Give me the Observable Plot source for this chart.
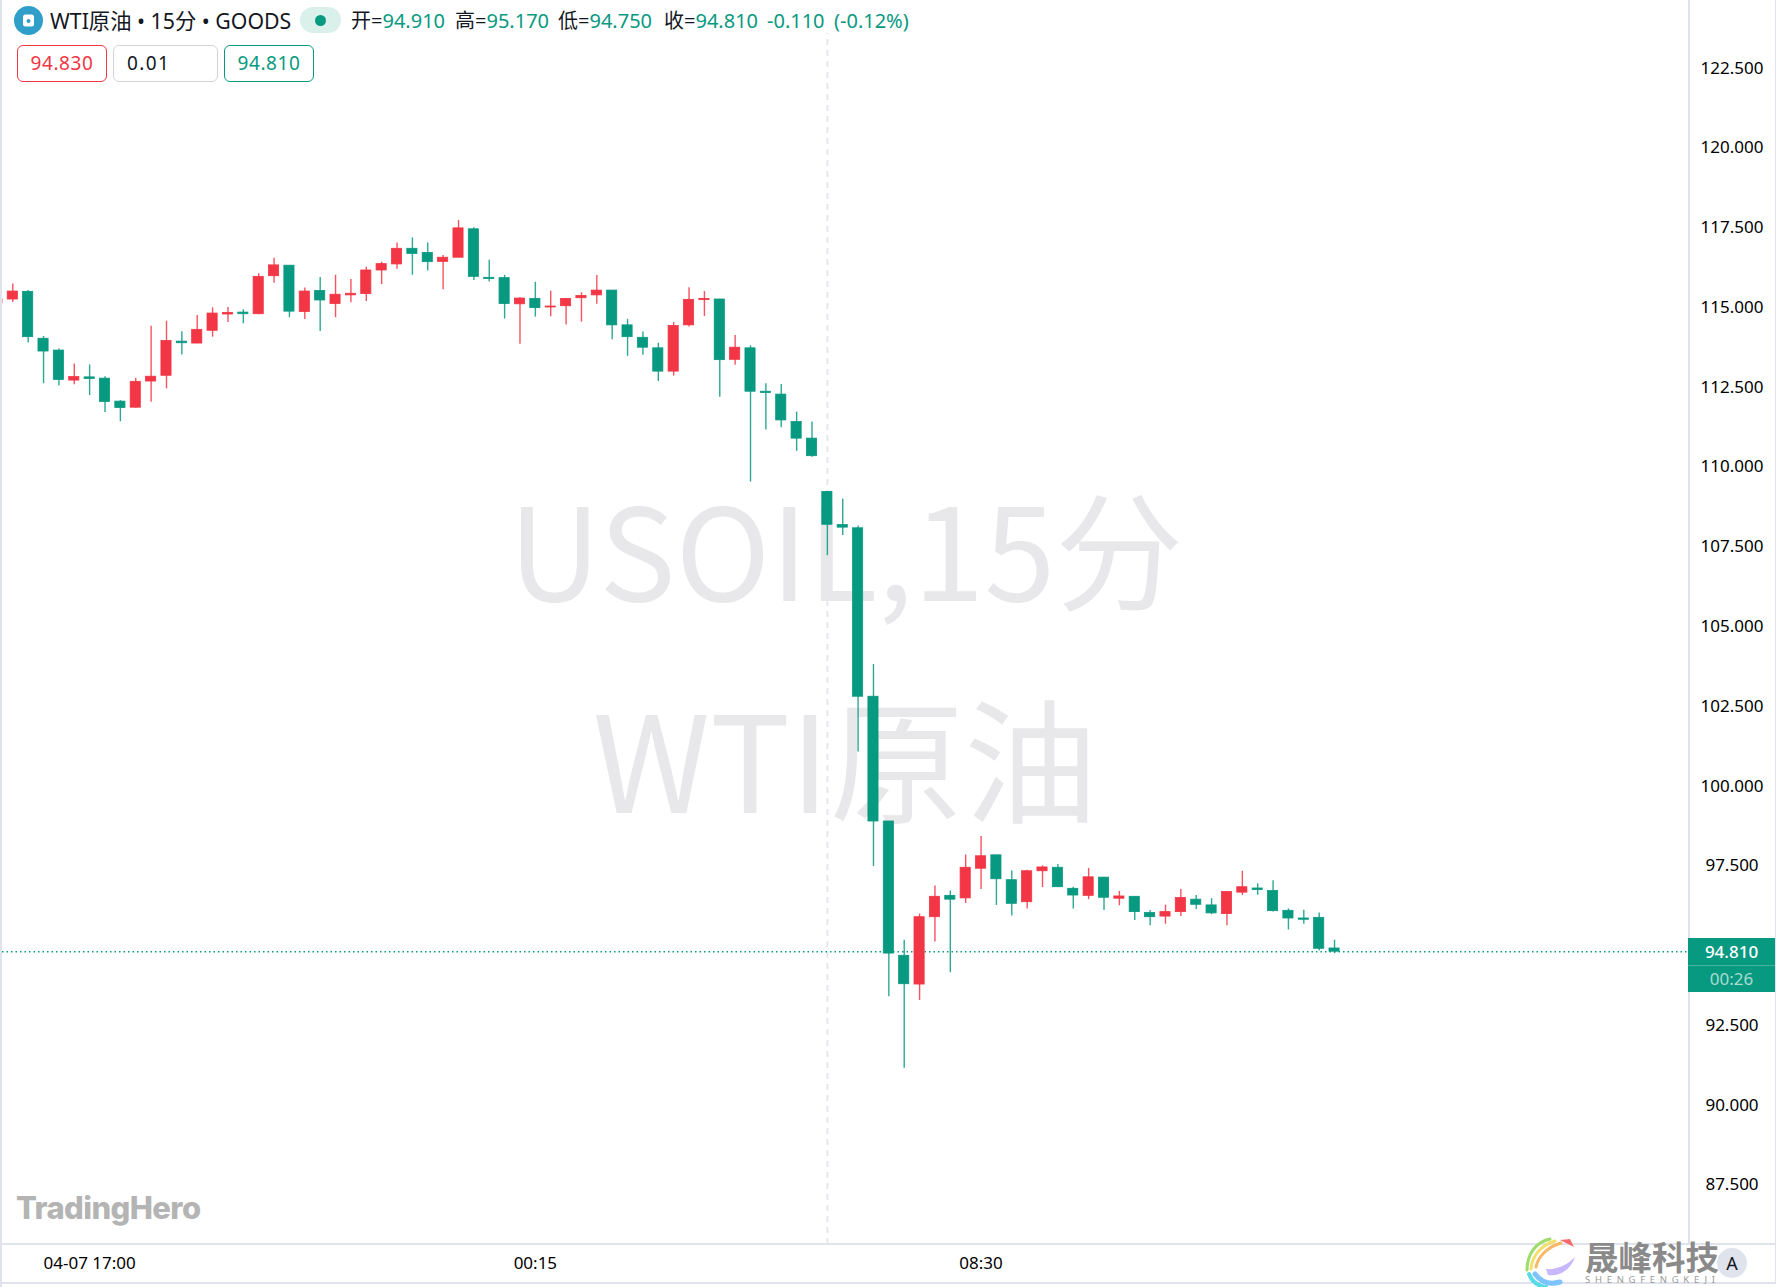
<!DOCTYPE html>
<html lang="zh">
<head>
<meta charset="utf-8">
<script src="https://cdn.jsdelivr.net/npm/d3@7"></script>
<script src="https://cdn.jsdelivr.net/npm/@observablehq/plot@0.6"></script>
<style>
html,body{margin:0;padding:0;background:#fff;width:1776px;height:1287px;overflow:hidden;font-family:"Noto Sans","Noto Sans CJK SC",sans-serif;color:#131722}
#wrap{position:relative;width:1776px;height:1287px;overflow:hidden}
#chart{position:absolute;left:0;top:0}
.a{position:absolute;white-space:nowrap}
.line{position:absolute;background:#e0e3eb}
.g{color:#089981}
.box{position:absolute;top:45px;height:35px;line-height:35px;border-radius:6px;border:1.5px solid;text-align:center;font-size:19px;letter-spacing:.6px;background:#fff}
</style>
</head>
<body>
<div id="wrap">
<div id="chart"></div>
<div class="line" style="left:0;top:0;width:2px;height:1287px"></div>
<div class="line" style="left:1688px;top:0;width:1.5px;height:1244px"></div>
<div class="line" style="left:1775px;top:0;width:1px;height:1282px"></div>
<div class="line" style="left:0;top:1243px;width:1776px;height:2px"></div>
<div class="line" style="left:0;top:1282px;width:1776px;height:2px"></div>

<svg class="a" style="left:14px;top:6px" width="29" height="29" viewBox="0 0 29 29"><circle cx="14.5" cy="14.5" r="14.5" fill="#2f9fc9"/><rect x="9" y="8.5" width="11" height="12" rx="2.5" fill="#fff"/><circle cx="14.5" cy="15" r="2" fill="#2f9fc9"/></svg>
<div class="a" style="left:50px;top:7px;font-size:21.3px;line-height:28px">WTI原油 • 15分 • GOODS</div>
<div class="a" style="left:300px;top:7px;width:41px;height:26px;border-radius:13px;background:#d9f0eb"></div>
<div class="a" style="left:315px;top:15px;width:11px;height:11px;border-radius:50%;background:#089981"></div>
<div class="a" style="left:351px;top:7px;font-size:20px;line-height:28px">开=<span class="g">94.910</span></div>
<div class="a" style="left:455px;top:7px;font-size:20px;line-height:28px">高=<span class="g">95.170</span></div>
<div class="a" style="left:558px;top:7px;font-size:20px;line-height:28px">低=<span class="g">94.750</span></div>
<div class="a" style="left:664px;top:7px;font-size:20px;line-height:28px">收=<span class="g">94.810</span></div>
<div class="a g" style="left:767px;top:7px;font-size:20px;line-height:28px">-0.110</div>
<div class="a g" style="left:834px;top:7px;font-size:20px;line-height:28px">(-0.12%)</div>

<div class="box" style="left:17px;width:88px;border-color:#f23645;color:#f23645">94.830</div>
<div class="box" style="left:113px;width:103px;border-color:#d1d4dc;color:#131722;text-align:left;text-indent:13px;letter-spacing:1.4px">0.01</div>
<div class="box" style="left:224px;width:88px;border-color:#089981;color:#089981">94.810</div>

<div class="a" style="left:1688px;top:938px;width:87px;height:54px;background:#089981"></div>
<div class="a" style="left:1688px;top:965px;width:87px;height:1px;background:#46b3a0"></div>
<div class="a" style="left:1688px;top:938px;width:87px;height:27px;line-height:27px;text-align:center;color:#fff;font-size:17px;font-weight:500">94.810</div>
<div class="a" style="left:1688px;top:966px;width:87px;height:26px;line-height:26px;text-align:center;color:#a8dcd2;font-size:17px">00:26</div>

<div class="a" style="left:16px;top:1188px;font-family:Inter,sans-serif;font-weight:800;font-size:31px;line-height:40px;letter-spacing:-.6px;color:#b4b4b4">TradingHero</div>

<svg class="a" style="left:1524px;top:1236px" width="56" height="51" viewBox="0 0 56 51" fill="none" stroke-linecap="round">
<path d="M3 34 C3 18 12 6 26 3" stroke="#9bdc6a" stroke-width="3"/>
<path d="M7 33 C8 20 17 9 31 5" stroke="#f2e06a" stroke-width="3"/>
<path d="M12 31 C14 21 23 11 37 7" stroke="#f9b868" stroke-width="3"/>
<path d="M36 4 L46 3 L50 11 Z" fill="#f66a6a" stroke="none"/>
<path d="M5 38 C8 46 14 50 22 51" stroke="#59dbe8" stroke-width="4"/>
<path d="M11 38 C17 46 26 49 36 46" stroke="#7cc3ff" stroke-width="5"/>
<path d="M22 33 C32 34 44 29 51 21 C47 33 36 41 24 39" fill="#c8b6ff" stroke="none"/>
</svg>
<div class="a" style="left:1585px;top:1238px;font-family:'Noto Sans CJK SC';font-weight:700;font-size:33.5px;line-height:35px;color:#8a8a8a">晟峰科技</div>
<div class="a" style="left:1585px;top:1275px;font-size:9.5px;line-height:10px;letter-spacing:4.7px;color:#9a9a9a">SHENGFENGKEJI</div>
<div class="a" style="left:1717px;top:1248px;width:30px;height:30px;border-radius:50%;background:#e0e3eb;text-align:center;line-height:30px;font-size:18px">A</div>
</div>
<script>
const opens = [115.13,115.25,115.49,114.02,113.65,112.71,112.81,112.77,112.05,111.86,112.68,112.86,113.93,113.87,114.27,114.78,114.84,114.79,115.98,116.31,114.86,115.52,115.11,115.38,115.42,116.16,116.35,116.84,116.71,116.43,116.56,117.45,115.93,115.92,115.10,115.27,115.00,115.04,115.29,115.38,115.53,114.44,114.05,113.72,112.99,114.44,115.23,115.25,113.36,113.72,112.36,112.27,111.41,110.89,109.22,108.18,108.08,102.80,98.89,94.68,93.78,95.89,96.56,96.48,97.41,97.83,97.05,96.36,97.33,97.44,96.78,96.56,97.13,96.47,96.53,96.02,95.91,96.05,96.44,96.26,95.99,96.66,96.79,96.71,96.09,95.85,95.87,94.91];
const closes = [115.25,115.50,114.07,113.62,112.73,112.82,112.76,112.04,111.85,112.67,112.83,113.95,113.88,114.30,114.81,114.83,114.79,115.96,116.32,114.87,115.50,115.22,115.40,115.43,116.16,116.36,116.84,116.68,116.42,116.56,117.48,115.96,115.89,115.11,115.28,114.98,115.03,115.27,115.36,115.53,114.44,114.07,113.74,112.99,114.42,115.24,115.27,113.35,113.74,112.36,112.32,111.46,110.89,110.34,108.19,108.10,102.80,98.89,94.75,93.79,95.89,96.53,96.44,97.44,97.80,97.08,96.31,97.33,97.45,96.83,96.57,97.14,96.50,96.54,96.05,95.89,96.05,96.49,96.28,96.01,96.68,96.83,96.74,96.08,95.85,95.81,94.90,94.81];
const highs = [115.25,115.74,115.53,114.09,113.70,113.23,113.20,112.83,112.08,112.78,114.41,114.57,114.24,114.75,114.99,115.00,114.93,116.06,116.54,116.31,115.61,115.94,116.01,115.88,116.26,116.42,117.02,117.18,117.02,116.63,117.73,117.50,116.48,116.01,115.31,115.79,115.51,115.28,115.46,116.00,115.53,114.63,114.23,113.88,114.53,115.62,115.50,115.26,114.12,113.80,112.61,112.59,111.72,111.41,109.23,109.00,108.15,103.81,98.89,95.17,95.99,96.87,96.71,97.84,98.42,97.83,97.34,97.36,97.50,97.54,96.83,97.42,97.13,96.70,96.53,96.10,96.27,96.76,96.57,96.47,96.69,97.33,96.94,97.03,96.15,96.11,96.02,95.17];
const lows = [115.13,115.16,113.89,112.61,112.54,112.58,112.24,111.71,111.42,111.84,112.03,112.45,113.51,113.86,114.07,114.53,114.49,114.77,115.76,114.68,114.62,114.25,114.68,115.15,115.19,115.72,116.20,116.01,116.14,115.56,116.56,115.85,115.80,114.64,113.85,114.70,114.71,114.45,114.54,115.10,113.99,113.47,113.50,112.68,112.85,114.39,114.72,112.19,113.19,109.53,111.16,111.23,110.49,110.31,107.22,107.85,101.07,97.48,93.40,91.16,93.28,95.11,94.15,96.32,96.76,96.26,95.93,96.15,96.82,96.83,96.15,96.44,96.10,96.25,95.79,95.62,95.67,95.91,96.13,95.97,95.62,96.57,96.58,96.05,95.49,95.67,94.83,94.75];
const priceTicks = [87.5,90,92.5,97.5,100,102.5,105,107.5,110,112.5,115,117.5,120,122.5];
const timeTicks = [5,34,63];
const timeLabels = ["04-07 17:00","00:15","08:30"];
const lastPrice = 94.81;
const crosshairBar = 53;
const watermarks = ["USOIL,15分","WTI原油"];
const watermarkBars = [54.2,54.15];
const watermarkPrices = [107.07,100.49];
const watermarkSizes = [128,134];

const UP = "#f23645", DOWN = "#089981";
const bars = opens.map((o,k)=>({i:k-1,o,c:closes[k],h:highs[k],l:lows[k],col:closes[k]>=o?UP:DOWN}));
const marks = watermarks.map((t,k)=>({t,x:watermarkBars[k],y:watermarkPrices[k],s:watermarkSizes[k]}));
const sansStack = '"Noto Sans","Noto Sans CJK SC",sans-serif';

const chart = Plot.plot({
  width:1776,height:1287,
  marginLeft:2,marginRight:88,marginTop:0,marginBottom:43,
  style:{background:"transparent",fontFamily:sansStack},
  x:{type:"linear",domain:[-0.67,109.03],label:null},
  y:{type:"linear",domain:[85.632,124.622],label:null},
  marks:[
    ...marks.map(m=>Plot.text([m],{x:"x",y:"y",text:"t",fontSize:m.s,fill:"#e8e8ea",fontFamily:'"Noto Sans CJK SC",sans-serif',textAnchor:"middle",lineAnchor:"middle"})),
    Plot.ruleX([crosshairBar],{y1:85.632,y2:123.59,stroke:"#e6e7ee",strokeWidth:2,strokeDasharray:"6 5"}),
    Plot.ruleY([lastPrice],{stroke:DOWN,strokeWidth:1.5,strokeDasharray:"1.5 3"}),
    Plot.ruleX(bars,{x:"i",y1:"l",y2:"h",stroke:"col",strokeWidth:1.4,strokeOpacity:.85,clip:true}),
    Plot.rect(bars,{x1:d=>d.i-.33,x2:d=>d.i+.33,y1:"o",y2:"c",fill:"col",stroke:"col",strokeWidth:.8,clip:true}),
    Plot.axisY(priceTicks,{anchor:"right",tickSize:0,tickPadding:43.5,textAnchor:"middle",fontSize:17,fill:"#000",tickFormat:d=>d3.format(".3f")(d),label:null}),
    Plot.axisX(timeTicks,{anchor:"bottom",tickSize:0,tickPadding:12,fontSize:17,fill:"#000",tickFormat:d=>timeLabels[timeTicks.indexOf(d)],label:null})
  ]
});
document.getElementById("chart").appendChild(chart);
</script>
</body>
</html>
